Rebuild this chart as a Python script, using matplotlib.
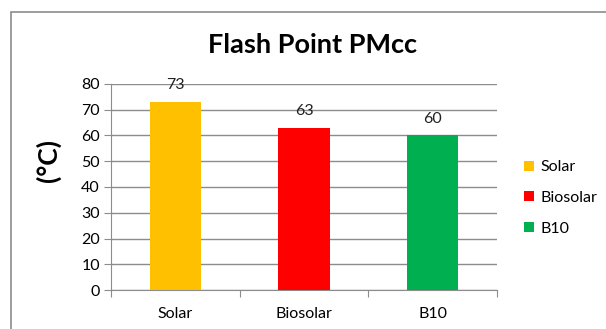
import matplotlib.pyplot as plt
from matplotlib.patches import Rectangle

# data
fuels = ["Solar", "Biosolar", "B10"]
flash_point = [73, 63, 60]
bar_colors = ["#FFC000", "#FF0000", "#00B050"]
y_ticks = [0, 10, 20, 30, 40, 50, 60, 70, 80]

plt.rcParams['font.family'] = ['Lato', 'DejaVu Sans']

W, H = 606, 329
fig = plt.figure(figsize=(W / 100, H / 100), dpi=100)

# outer chart frame
fig.patches.append(Rectangle((11 / W, -0.1), 1.2, (H - 12) / H + 0.1,
                             transform=fig.transFigure, fill=False,
                             edgecolor="#8c8c8c", linewidth=1.2))

ax = fig.add_axes([111 / W, (H - 290) / H, (497 - 111) / W, (290 - 84) / H])

x = range(len(fuels))
bars = []
for i, (name, val, col) in enumerate(zip(fuels, flash_point, bar_colors)):
    b = ax.bar(i, val, width=0.4, color=col, label=name, zorder=3)
    bars.append(b)
    ax.text(i, val + 3.8, str(val), ha="center", va="bottom", fontsize=11.5, color="#222222")

ax.set_xlim(-0.5, len(fuels) - 0.5)
ax.set_ylim(0, 80)
ax.set_yticks(y_ticks)
ax.set_yticklabels([str(t) for t in y_ticks], fontsize=11.5)
ax.yaxis.grid(True, color="#8c8c8c", linewidth=1, zorder=0)

ax.set_xticks([-0.5, 0.5, 1.5, 2.5])
ax.set_xticklabels([])
ax.set_xticks(list(x), minor=True)
ax.set_xticklabels(fuels, minor=True, fontsize=11.5)
ax.tick_params(axis="x", which="major", length=5, color="#8c8c8c", direction="out")
ax.tick_params(axis="x", which="minor", length=0, pad=12)
ax.tick_params(axis="y", length=5, color="#8c8c8c", pad=3)

for side in ["top", "right"]:
    ax.spines[side].set_visible(False)
for side in ["left", "bottom"]:
    ax.spines[side].set_color("#8c8c8c")

fig.text(313 / W, 1 - 45 / H, "Flash Point PMcc", ha="center", va="center",
         fontsize=19.5, fontweight="bold")
fig.text(48 / W, 1 - 160 / H, "(°C)", ha="center", va="center", rotation=90,
         fontsize=19, fontweight="bold")

fig.legend(handles=[b[0] for b in bars], labels=fuels, loc="center left",
           bbox_to_anchor=(510 / W, 1 - 198 / H), frameon=False, fontsize=11.5,
           handlelength=0.6, handleheight=0.6, handletextpad=0.4, labelspacing=1.05)

fig.savefig("out.png", dpi=100)
